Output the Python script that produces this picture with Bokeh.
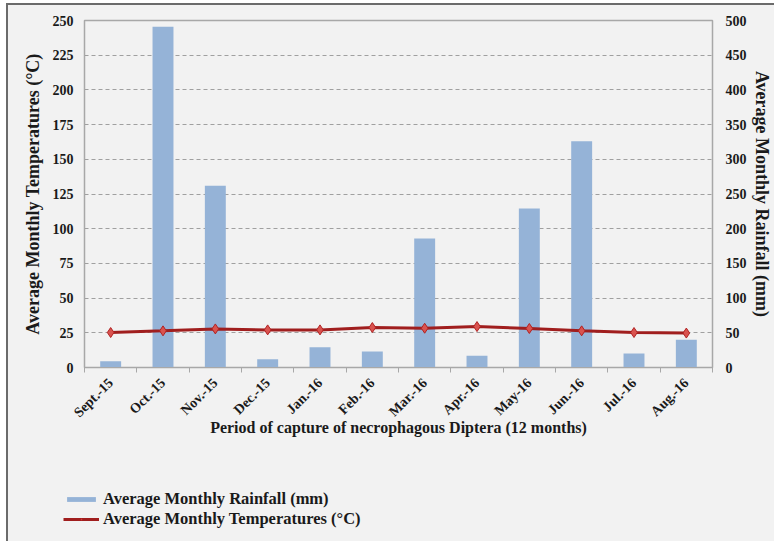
import math
from bokeh.plotting import figure
from bokeh.layouts import column
from bokeh.models import (Range1d, LinearAxis, FixedTicker, ColumnDataSource,
                          Legend, LegendItem, Grid)
from bokeh.embed import file_html
from bokeh.resources import INLINE

# ---- data ----
months = ["Sept.-15", "Oct.-15", "Nov.-15", "Dec.-15", "Jan.-16", "Feb.-16",
          "Mar.-16", "Apr.-16", "May-16", "Jun.-16", "Jul.-16", "Aug.-16"]
rainfall_mm = [9, 491, 262, 12, 29, 23, 186, 17, 229, 326, 20, 40]
temperature_c = [25.2, 26.4, 27.8, 27.1, 27.1, 28.8, 28.3, 29.5, 28.1, 26.4, 25.2, 24.8]
temp_ticks = list(range(0, 251, 25))
rain_ticks = list(range(0, 501, 50))

x_title = "Period of capture of necrophagous Diptera (12 months)"
left_title = "Average Monthly Temperatures (°C)"
right_title = "Average Monthly Rainfall (mm)"
rain_label = "Average Monthly Rainfall (mm)"
temp_label = "Average Monthly Temperatures (°C)"

FONT = "Liberation Serif"
BG = "#f2f2f2"
GRAY = "#a8a8a8"
TXT = "#1a1a1a"
BAR_COLOR = "#95B3D7"
LINE_COLOR = "#A01E1E"

xc = [i + 0.5 for i in range(len(months))]
src = ColumnDataSource(dict(x=xc, month=months, rain=rainfall_mm, temp=temperature_c))

p = figure(width=766, height=467, output_backend="svg", toolbar_location=None,
           x_range=Range1d(0, len(months)), y_range=Range1d(0, 250),
           x_axis_type=None, y_axis_type=None,
           min_border_left=76, min_border_right=61, min_border_top=15, min_border_bottom=105,
           background_fill_color=BG, border_fill_color=BG,
           outline_line_color=GRAY, outline_line_width=1.5)
p.extra_y_ranges = {"rain": Range1d(0, 500)}
p.frame_align = False

def style_axis(ax, size="14px"):
    ax.major_label_text_font = FONT
    ax.major_label_text_font_style = "bold"
    ax.major_label_text_font_size = size
    ax.major_label_text_color = TXT
    ax.axis_label_text_font = FONT
    ax.axis_label_text_font_style = "bold"
    ax.axis_label_text_color = TXT
    ax.minor_tick_line_color = None
    ax.axis_line_color = GRAY

# left axis (temperature)
la = LinearAxis(ticker=FixedTicker(ticks=temp_ticks), axis_label=left_title)
style_axis(la)
la.major_tick_out = 0
la.major_tick_in = 0
la.major_label_standoff = 11
la.axis_label_standoff = 7
la.axis_label_text_font_size = "18px"
p.add_layout(la, "left")

# right axis (rainfall)
ra = LinearAxis(y_range_name="rain", ticker=FixedTicker(ticks=rain_ticks), axis_label=right_title)
style_axis(ra)
ra.major_tick_out = 0
ra.major_tick_in = 0
ra.major_label_standoff = 13
ra.axis_label_standoff = 2
ra.axis_label_text_font_size = "18px"
p.add_layout(ra, "right")

# bottom: tick axis at category boundaries
ta = LinearAxis(ticker=FixedTicker(ticks=list(range(len(months) + 1))),
                major_label_overrides={i: "" for i in range(len(months) + 1)})
style_axis(ta)
ta.major_label_text_font_size = "0px"
ta.major_label_standoff = 0
ta.major_tick_out = 5
ta.major_tick_in = 0
ta.major_tick_line_color = GRAY
p.add_layout(ta, "below")

# bottom: month labels at category centres
ma = LinearAxis(ticker=FixedTicker(ticks=xc),
                major_label_overrides={x: m for x, m in zip(xc, months)},
                axis_label=x_title)
style_axis(ma)
ma.axis_line_color = None
ma.major_tick_line_color = None
ma.major_tick_out = 0
ma.major_tick_in = 0
ma.major_label_standoff = 8
ma.major_label_orientation = math.pi / 4
ma.axis_label_standoff = -9
ma.axis_label_text_font_size = "16px"
p.add_layout(ma, "below")

# horizontal dashed grid
g = Grid(dimension=1, ticker=FixedTicker(ticks=temp_ticks[1:-1]),
         grid_line_color="#a0a0a0", grid_line_dash="4 3", grid_line_width=1.2)
p.add_layout(g)

p.vbar(x="x", top="rain", width=0.4, source=src, y_range_name="rain",
       fill_color=BAR_COLOR, line_color=None)
p.line(x="x", y="temp", source=src, line_color=LINE_COLOR, line_width=3)
p.scatter(x="x", y="temp", source=src, marker="diamond", size=10,
          fill_color="#D9534F", line_color="#B22222")

# ---- legend strip below the chart (its glyphs lie outside its ranges) ----
q = figure(width=766, height=69, output_backend="svg", toolbar_location=None,
           x_range=Range1d(-100, -99), y_range=Range1d(1000, 1001),
           x_axis_type=None, y_axis_type=None, min_border=0,
           background_fill_color=BG, border_fill_color=BG, outline_line_color=None)
q.frame_align = False
q.xgrid.visible = False
q.ygrid.visible = False
lb = q.vbar(x="x", top="rain", width=0.4, source=src, fill_color=BAR_COLOR, line_color=None)
ll = q.line(x="x", y="temp", source=src, line_color=LINE_COLOR, line_width=3)
lm = q.scatter(x="x", y="temp", source=src, marker="diamond", size=10,
               fill_color="#D9534F", line_color="#B22222")
legend = Legend(items=[LegendItem(label=rain_label, renderers=[lb]),
                       LegendItem(label=temp_label, renderers=[ll, lm])],
                location=(55, 12), orientation="vertical",
                glyph_width=36, glyph_height=6, label_height=18, label_standoff=4,
                spacing=-3, padding=0, margin=0,
                background_fill_alpha=0, border_line_color=None,
                label_text_font=FONT, label_text_font_style="bold",
                label_text_font_size="16.5px", label_text_color=TXT)
q.add_layout(legend, "center")

layout = column(p, q, spacing=0)
layout.styles = {"border-top": "2px solid #6b6b6b", "border-left": "2px solid #6b6b6b",
                 "margin-top": "3px", "margin-left": "6px",
                 "background-color": BG}

open("out.html", "w").write(file_html(layout, INLINE))
